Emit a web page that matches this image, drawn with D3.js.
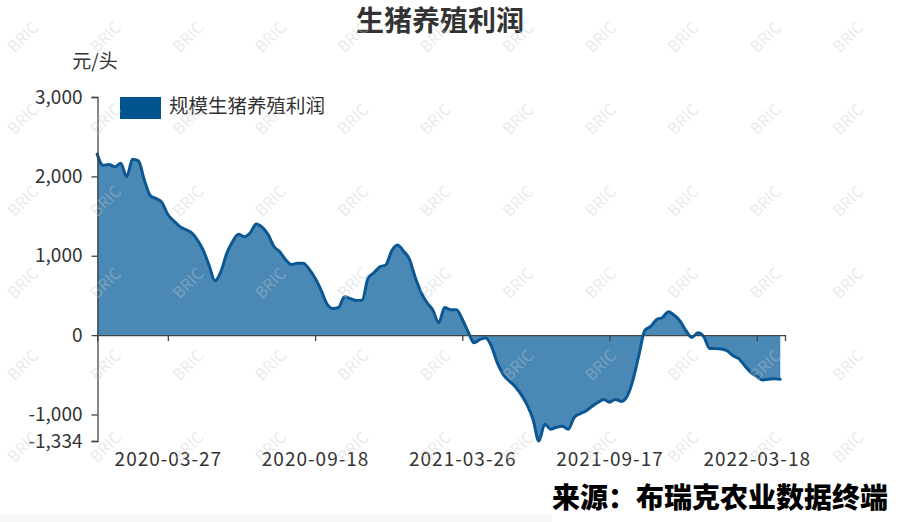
<!DOCTYPE html>
<html><head><meta charset="utf-8">
<script src="https://cdn.jsdelivr.net/npm/d3@7"></script>
<style>
html,body{margin:0;padding:0;background:#fff;}
svg{display:block;}
text{font-family:"Noto Sans CJK SC","Noto Sans",sans-serif;}
</style></head>
<body>
<svg id="chart" width="900" height="522"></svg>
<script>
const title = "生猪养殖利润";
const unitLabel = "元/头";
const seriesName = "规模生猪养殖利润";
const sourceText = "来源：布瑞克农业数据终端";
// weekly observations (category index 0..116)
const values = [
 2280,2140,2150,2120,2165,1995,2215,2195,1955,1760,
 1720,1670,1520,1440,1370,1330,1290,1200,1070,880,
 685,800,1030,1180,1270,1240,1290,1400,1360,1270,
 1120,1050,950,890,905,905,830,720,570,395,
 336,350,483,460,435,441,720,786,860,885,
 1060,1135,1060,960,730,540,410,315,155,349,
 320,320,200,40,-97,-55,-35,-150,-360,-500,
 -580,-650,-750,-880,-1060,-1334,-1122,-1185,-1160,-1148,
 -1185,-1038,-990,-955,-900,-850,-811,-845,-811,-835,
 -770,-560,-250,60,110,198,223,294,250,175,
 55,-29,29,-20,-168,-168,-175,-200,-260,-300,
 -390,-470,-520,-565,-555,-550,-555
];
const xTickLabels = ["2020-03-27","2020-09-18","2021-03-26","2021-09-17","2022-03-18"];
const xTickIndex = [12,37,62,87,112];
const yTickValues = [-1334,-1000,0,1000,2000,3000];
const yTickLabels = ["-1,334","-1,000","0","1,000","2,000","3,000"];
const watermark = "BRIC";

const data = values.map((v,i)=>({i:i, value:v}));
const n = values.length;

const svg = d3.select("#chart");
const x = d3.scaleLinear().domain([0, n-1+0.8]).range([97.2,785]);
const y = d3.scaleLinear().domain([-1334,3000]).range([441,97]);

// faint strip at bottom
svg.append("rect").attr("x",0).attr("y",514).attr("width",552).attr("height",8).attr("fill","#f6f7f9");

// area + line
const area = d3.area().x(d=>x(d.i)).y0(y(0)).y1(d=>y(d.value)).curve(d3.curveMonotoneX);
const line = d3.line().x(d=>x(d.i)).y(d=>y(d.value)).curve(d3.curveMonotoneX);
svg.append("path").datum(data).attr("d",area).attr("fill","#4a88b5");

// x axis at zero
const xAxis = d3.axisBottom(x).tickValues(xTickIndex).tickFormat("").tickSize(6).tickSizeOuter(6);
const gx = svg.append("g").attr("transform",`translate(0,${y(0)})`).call(xAxis);
gx.selectAll("path,line").attr("stroke","#444").attr("stroke-width",1.3);

svg.append("path").datum(data).attr("d",line).attr("fill","none")
  .attr("stroke","#0b5794").attr("stroke-width",3).attr("stroke-linejoin","round").attr("stroke-linecap","round");

// x labels at bottom
const xLab = d3.axisBottom(x).tickValues(xTickIndex).tickFormat((d,k)=>xTickLabels[k]).tickSize(0).tickPadding(12);
const gxl = svg.append("g").attr("transform",`translate(0,441)`).call(xLab);
gxl.select(".domain").remove();
gxl.selectAll("text").attr("font-size",19).attr("letter-spacing","1px").attr("fill","#333").attr("font-family","'Noto Sans CJK SC',sans-serif");

// y axis
const yAxis = d3.axisLeft(y).tickValues(yTickValues).tickFormat((d,k)=>yTickLabels[k]).tickSize(6).tickSizeOuter(6).tickPadding(9);
const gy = svg.append("g").attr("transform",`translate(97.5,0)`).call(yAxis);
gy.selectAll("path,line").attr("stroke","#444").attr("stroke-width",1.3);
gy.selectAll("text").attr("font-size",19).attr("fill","#333").attr("font-family","'Noto Sans CJK SC',sans-serif");

// unit
svg.append("text").attr("x",95).attr("y",63).attr("text-anchor","middle").attr("dominant-baseline","middle")
  .attr("font-size",19).attr("fill","#333").text(unitLabel);

// title
svg.append("text").attr("x",440).attr("y",31).attr("text-anchor","middle")
  .attr("font-size",28).attr("font-weight","bold").attr("fill","#333").text(title);

// legend
svg.append("rect").attr("x",120).attr("y",97).attr("width",41).attr("height",22).attr("fill","#00558f");
svg.append("text").attr("x",169).attr("y",108).attr("dominant-baseline","middle")
  .attr("font-size",19.5).attr("fill","#333").text(seriesName);

// source
svg.append("text").attr("x",888).attr("y",500).attr("text-anchor","end").attr("dominant-baseline","middle")
  .attr("font-size",28).attr("font-weight","900").attr("fill","#000").text(sourceText);

// watermark
const wm = svg.append("g").attr("pointer-events","none");
for (let r=0;r<6;r++){
  for (let c=0;c<11;c++){
    const cx = 24 + c*82.5, cy = 38 + r*82;
    wm.append("text").attr("transform",`translate(${cx},${cy}) rotate(-45)`)
      .attr("text-anchor","middle").attr("dominant-baseline","middle")
      .attr("font-size",16).attr("fill","rgb(200,200,200)").attr("fill-opacity",0.4)
      .attr("font-family","'DejaVu Sans',sans-serif").text(watermark);
  }
}
</script>
</body></html>
